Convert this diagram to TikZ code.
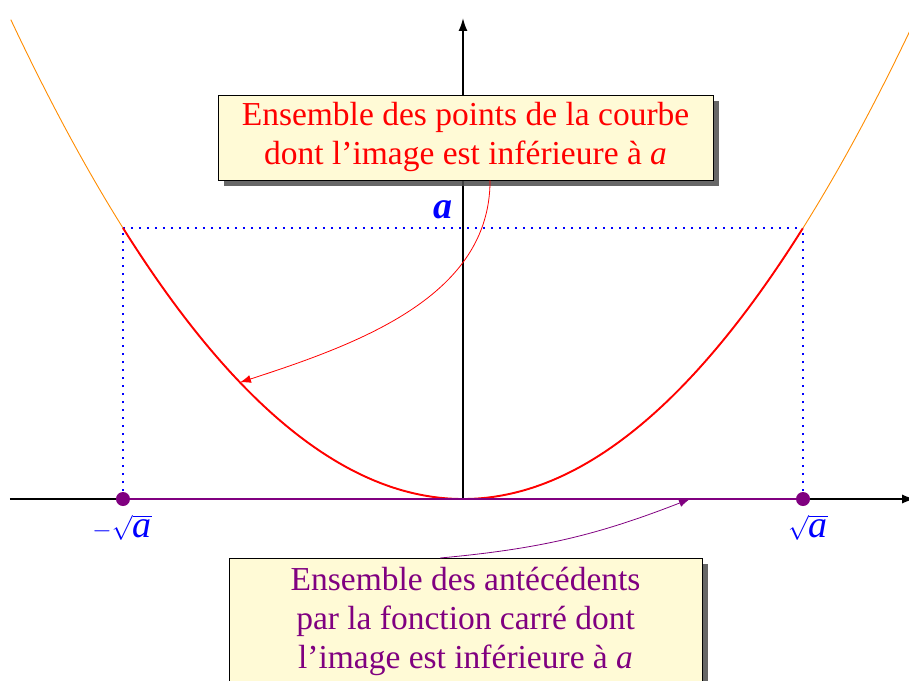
\documentclass[tikz,border=0pt]{standalone}
\usepackage{fontspec}
\setmainfont{Liberation Serif}
\usetikzlibrary{shadows,arrows.meta}
\definecolor{boxfill}{RGB}{255,250,214}
\definecolor{mypurple}{RGB}{128,0,128}
\definecolor{myorange}{RGB}{255,140,0}
\tikzset{
  note/.style={draw=black, line width=0.9pt, fill=boxfill, align=center,
    drop shadow={shadow xshift=6pt, shadow yshift=-6pt, fill=black!70, opacity=0.85},
    font=\fontsize{33.5}{39}\selectfont},
  axis/.style={line width=1.8pt, -{Latex[length=13pt,width=9pt]}},
  guide/.style={blue, line width=1.8pt, dash pattern=on 1.8pt off 6.2pt},
  lbl/.style={blue, font=\fontsize{38}{40}\selectfont},
  ptr/.style={-{Latex[length=11pt,width=8pt]}},
}
\begin{document}
\begin{tikzpicture}[x=170pt, y=67.75pt]
\useasboundingbox (-2.7235,-2.6716) rectangle (2.6235,7.3653);
\begin{scope}
\clip (-2.7235,-2.6716) rectangle (2.6235,7.3653);
% orange full parabola
\draw[myorange, line width=0.9pt] plot[domain=-2.66:2.66, samples=120, smooth] (\x,{\x*\x});
% guides
\draw[guide] (-2,4) -- (2,4);
\draw[guide] (-2,0) -- (-2,4);
\draw[guide] (2,0) -- (2,4);
% axes
\draw[axis] (-2.665,0) -- (2.66,0);
\draw[axis] (0,0) -- (0,7.1);
% red part
\draw[red, line width=1.9pt] plot[domain=-2:2, samples=100, smooth] (\x,{\x*\x});
% purple segment
\draw[mypurple, line width=2.8pt] (-2,0) -- (2,0);
\node[circle, fill=mypurple, inner sep=0pt, minimum size=14pt] (pl) at (-2,0) {};
\node[circle, fill=mypurple, inner sep=0pt, minimum size=14pt] (pr) at (2,0) {};
\end{scope}
% labels
\node[lbl] (la) at (-0.118,4.27) {\textbf{\textit{a}}};
\node[lbl] (lm) at (-2.006,-0.42) {$-\sqrt{\textit{a}}$};
\node[lbl] (lp) at (2.03,-0.42) {$\sqrt{\textit{a}}$};
% boxes
\node[note, text=red, minimum width=495pt, minimum height=85pt, inner sep=0pt] (topbox) at (0.015,5.336)
  {Ensemble des points de la courbe\\dont l’image est inférieure à \textit{a}};
\node[note, text=mypurple, minimum width=473pt, minimum height=140pt, inner sep=0pt, anchor=north] (botbox) at (0.015,-0.871)
  {\rule{0pt}{32pt}Ensemble des antécédents\\par la fonction carré dont\\l’image est inférieure à \textit{a}\\[6pt]};
% arrows
\coordinate (pc) at (-1.312,1.721);
\coordinate (px) at (1.335,0);
\draw[red, line width=0.8pt, ptr] ([xshift=24.5pt]topbox.south) .. controls ++(0,-1.7) and (-0.6,2.3) .. (pc);
\draw[mypurple, line width=0.8pt, ptr] ([xshift=-25.5pt]botbox.north) to[bend right=8] (px);
\end{tikzpicture}
\end{document}
